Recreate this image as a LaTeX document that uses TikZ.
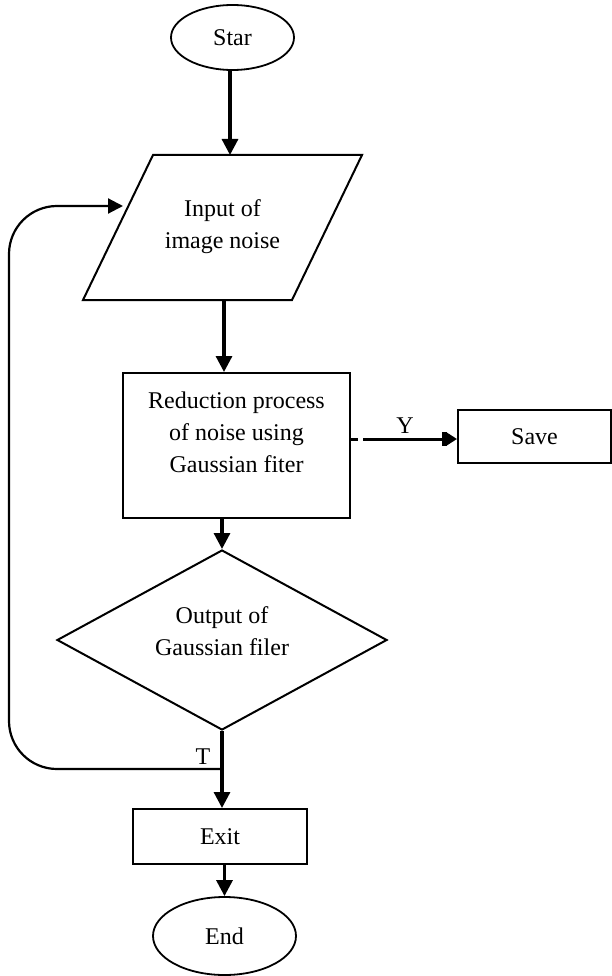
\documentclass[tikz,border=0pt]{standalone}
\usepackage{fontspec}
\setmainfont{Liberation Serif}
\usetikzlibrary{arrows.meta,shapes.geometric}
\begin{document}
\begin{tikzpicture}[x=1pt,y=-1pt,
  shapeline/.style={line width=2pt},
  flow/.style={line width=3.2pt,-{Triangle[width=16pt,length=16pt]}},
  loopline/.style={line width=2.2pt},
  txt/.style={font=\fontsize{24}{32}\selectfont,align=center,inner sep=0pt},
  term/.style={ellipse,draw,line width=1.8pt,inner sep=0pt,font=\fontsize{24}{32}\selectfont},
  boxnode/.style={rectangle,draw,shapeline,inner sep=0pt,font=\fontsize{24}{32}\selectfont}
]
\useasboundingbox (0,0) rectangle (612,976);

% Start
\node[term,minimum width=123pt,minimum height=65pt] (star) at (232.5,37.5) {Star};

% Input parallelogram
\coordinate (pTL) at (153,155);
\coordinate (pTR) at (362,155);
\coordinate (pBR) at (292,300);
\coordinate (pBL) at (83,300);
\draw[shapeline,line join=miter] (pTL) -- (pTR) -- (pBR) -- (pBL) -- cycle;
\node[txt] (input) at (222.5,227) {Input of\\image noise};
\coordinate (intop) at (230,155);
\coordinate (inbot) at (224,300);
\coordinate (inleft) at (123,206);

% Process box
\node[boxnode,minimum width=227pt,minimum height=145pt] (proc) at (236.5,445.5) {};
\node[txt] (proctext) at (236.5,432) {Reduction process\\of noise using\\Gaussian fiter};

% Save box
\node[boxnode,minimum width=153pt,minimum height=53pt] (save) at (534.5,436.5) {Save};

% Decision diamond
\node[diamond,draw,shapeline,inner sep=0pt,minimum width=330pt,minimum height=180pt] (dec) at (222,640) {};
\node[txt] (dectext) at (222,631) {Output of\\Gaussian filer};

% Exit box
\node[boxnode,minimum width=174pt,minimum height=55pt] (exit) at (220,836.5) {Exit};

% End
\node[term,minimum width=143pt,minimum height=78pt] (end) at (224.5,936) {End};

% Connectors
\draw[flow] (star.south -| intop) -- (intop);
\draw[flow] (inbot) -- (inbot |- proc.north);
\draw[flow] (dec.north |- proc.south) -- (dec.north);
\coordinate (tjoin) at (223,769);
\coordinate (lcorner) at (9,206);
\draw[flow] (dec.south) -- (dec.south |- exit.north);
\draw[flow] (exit.south -| end.north) -- (end.north);

% Loop back
\draw[loopline,rounded corners=48pt,-{Triangle[width=15pt,length=15pt]}] (tjoin) -| (lcorner) -- (inleft);
\node[txt,anchor=base] (tlabel) at (203,764) {T};

% Y branch
\draw[line width=3pt,dash pattern=on 7pt off 5pt on 300pt,
  -{Bar[width=14pt,line width=5pt]Triangle[width=12pt,length=10pt]}]
  (proc.east |- 0,439) -- (save.west |- 0,439);
\node[txt,anchor=base] (ylabel) at (405,433) {Y};

\end{tikzpicture}
\end{document}
